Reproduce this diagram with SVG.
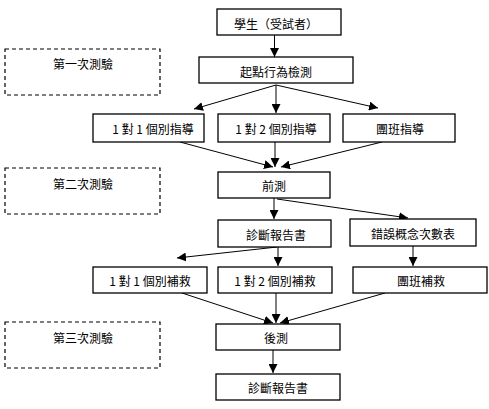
<svg xmlns="http://www.w3.org/2000/svg" width="489" height="409" viewBox="0 0 489 409">
<style>
.box{fill:#fff;stroke:#000;stroke-width:1.3}
.dash{fill:none;stroke:#000;stroke-width:1.2;stroke-dasharray:4 3}
.t{font-family:"Noto Sans CJK TC","Noto Sans CJK SC",sans-serif;font-size:12px;fill:#000;text-anchor:middle;dominant-baseline:central}
.tl{font-family:"Noto Sans CJK TC","Noto Sans CJK SC",sans-serif;font-size:12px;fill:#000;dominant-baseline:central}
.c{stroke:#000;stroke-width:1;fill:none;marker-end:url(#ah)}
</style>
<defs>
<marker id="ah" viewBox="0 0 10 10" refX="10" refY="5" markerWidth="9" markerHeight="9" markerUnits="userSpaceOnUse" orient="auto">
<path d="M0,0 L10,5 L0,10 z" fill="#000"/>
</marker>
</defs>
<g id="connectors">
<line class="c" x1="274.5" y1="35" x2="274.5" y2="57"/>
<line class="c" x1="276" y1="85" x2="194" y2="109"/>
<line class="c" x1="276" y1="85" x2="276" y2="113"/>
<line class="c" x1="276" y1="85" x2="378" y2="108"/>
<line class="c" x1="180" y1="142" x2="273" y2="167"/>
<line class="c" x1="275" y1="142" x2="275" y2="167"/>
<line class="c" x1="382" y1="142" x2="281" y2="167"/>
<line class="c" x1="274" y1="198" x2="274" y2="219"/>
<line class="c" x1="277" y1="199" x2="408" y2="218"/>
<line class="c" x1="277" y1="247" x2="177" y2="258"/>
<line class="c" x1="278" y1="247" x2="278" y2="266"/>
<line class="c" x1="413" y1="246" x2="413" y2="266"/>
<line class="c" x1="182" y1="293" x2="273" y2="323"/>
<line class="c" x1="276" y1="293" x2="276" y2="323"/>
<line class="c" x1="385" y1="293" x2="280" y2="323"/>
<line class="c" x1="273" y1="350" x2="273" y2="373"/>
</g>
<g id="test1"><rect class="dash" x="5" y="49" width="155" height="46"/><text class="tl" x="53" y="63">第一次測驗</text></g>
<g id="test2"><rect class="dash" x="5" y="168" width="155" height="46"/><text class="tl" x="53" y="183">第二次測驗</text></g>
<g id="test3"><rect class="dash" x="5" y="322" width="155" height="46"/><text class="tl" x="53" y="337">第三次測驗</text></g>
<g id="student"><rect class="box" x="217" y="9" width="124" height="26"/><text class="t" x="276" y="23">學生（受試者）</text></g>
<g id="entry"><rect class="box" x="199" y="57" width="154" height="26"/><text class="t" x="276" y="71">起點行為檢測</text></g>
<g id="guide1"><rect class="box" x="93" y="114" width="111" height="28"/><text class="t" x="153" y="128.5">1 對 1 個別指導</text></g>
<g id="guide2"><rect class="box" x="218" y="114" width="112" height="28"/><text class="t" x="276" y="128.5">1 對 2 個別指導</text></g>
<g id="guide3"><rect class="box" x="343" y="114" width="112" height="28"/><text class="t" x="400" y="128.5">團班指導</text></g>
<g id="pretest"><rect class="box" x="218" y="172" width="112" height="26"/><text class="t" x="274" y="185.5">前測</text></g>
<g id="report1"><rect class="box" x="218" y="220" width="113" height="27"/><text class="t" x="276" y="234">診斷報告書</text></g>
<g id="errors"><rect class="box" x="350" y="219" width="126" height="27"/><text class="t" x="413" y="233">錯誤概念次數表</text></g>
<g id="remedy1"><rect class="box" x="93" y="267" width="114" height="26"/><text class="t" x="150" y="280.5">1 對 1 個別補救</text></g>
<g id="remedy2"><rect class="box" x="218" y="267" width="114" height="26"/><text class="t" x="275" y="280.5">1 對 2 個別補救</text></g>
<g id="remedy3"><rect class="box" x="353" y="267" width="134" height="26"/><text class="t" x="421" y="280.5">團班補救</text></g>
<g id="posttest"><rect class="box" x="216" y="324" width="124" height="26"/><text class="t" x="276" y="337.5">後測</text></g>
<g id="report2"><rect class="box" x="216" y="374" width="124" height="26"/><text class="t" x="278" y="387.5">診斷報告書</text></g>
</svg>
